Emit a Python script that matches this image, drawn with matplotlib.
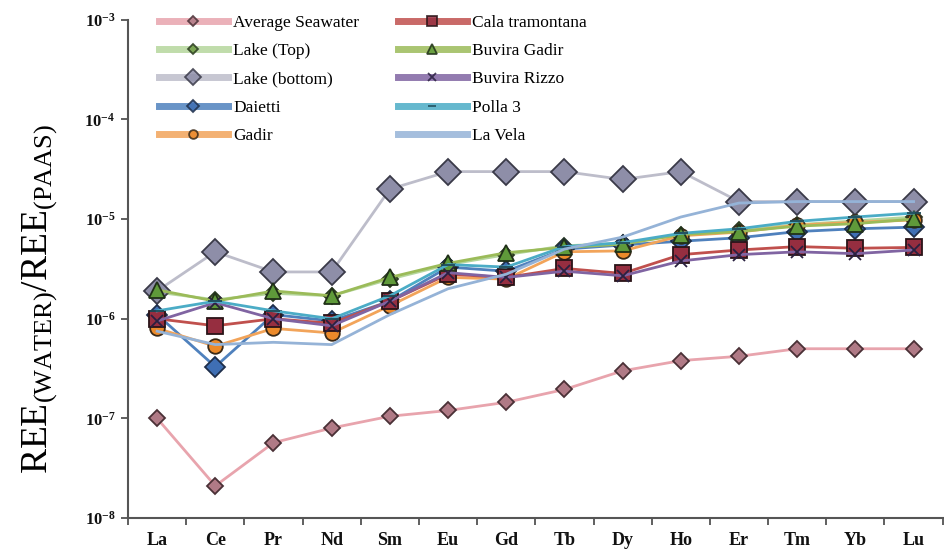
import numpy as np
import matplotlib
matplotlib.use("Agg")
import matplotlib.pyplot as plt
from matplotlib.ticker import FixedLocator, NullLocator, FixedFormatter

plt.rcParams['font.family'] = ['Liberation Serif', 'DejaVu Serif']
plt.rcParams['mathtext.fontset'] = 'custom'
plt.rcParams['mathtext.rm'] = 'Liberation Serif'
plt.rcParams['mathtext.it'] = 'Liberation Serif:italic'
plt.rcParams['mathtext.bf'] = 'Liberation Serif:bold'

elements = ['La', 'Ce', 'Pr', 'Nd', 'Sm', 'Eu', 'Gd', 'Tb', 'Dy', 'Ho', 'Er', 'Tm', 'Yb', 'Lu']

seawater = [1.0e-7, 2.1e-8, 5.7e-8, 8.0e-8, 1.05e-7, 1.2e-7, 1.45e-7, 1.95e-7, 3.0e-7, 3.8e-7, 4.2e-7, 5.0e-7, 5.0e-7, 5.0e-7]
lake_top = [1.85e-6, 1.55e-6, 1.8e-6, 1.7e-6, 2.5e-6, 3.5e-6, 4.4e-6, 5.4e-6, 5.7e-6, 7.0e-6, 7.8e-6, 8.8e-6, 9.6e-6, 1.05e-5]
lake_bottom = [1.9e-6, 4.7e-6, 2.95e-6, 2.95e-6, 2.0e-5, 3.0e-5, 3.0e-5, 3.0e-5, 2.5e-5, 3.0e-5, 1.5e-5, 1.5e-5, 1.5e-5, 1.5e-5]
daietti = [1.1e-6, 3.3e-7, 1.1e-6, 9.5e-7, 1.5e-6, 3.3e-6, 3.0e-6, 5.0e-6, 5.5e-6, 6.0e-6, 6.5e-6, 7.5e-6, 8.0e-6, 8.3e-6]
gadir = [8.0e-7, 5.3e-7, 8.0e-7, 7.2e-7, 1.35e-6, 2.6e-6, 2.5e-6, 4.7e-6, 4.8e-6, 6.8e-6, 7.4e-6, 8.7e-6, 9.3e-6, 9.8e-6]
cala = [1.0e-6, 8.5e-7, 1.0e-6, 9.0e-7, 1.5e-6, 2.8e-6, 2.6e-6, 3.2e-6, 2.85e-6, 4.4e-6, 4.9e-6, 5.3e-6, 5.1e-6, 5.2e-6]
buvira_gadir = [1.95e-6, 1.5e-6, 1.9e-6, 1.7e-6, 2.6e-6, 3.6e-6, 4.6e-6, 5.2e-6, 5.6e-6, 7.0e-6, 7.5e-6, 8.5e-6, 9.0e-6, 1.0e-5]
buvira_rizzo = [9.5e-7, 1.45e-6, 1.0e-6, 8.5e-7, 1.5e-6, 2.9e-6, 2.6e-6, 3.0e-6, 2.7e-6, 3.8e-6, 4.4e-6, 4.7e-6, 4.5e-6, 4.9e-6]
polla3 = [1.2e-6, 1.5e-6, 1.2e-6, 1.0e-6, 1.7e-6, 3.5e-6, 3.3e-6, 5.3e-6, 5.8e-6, 7.2e-6, 8.0e-6, 9.5e-6, 1.05e-5, 1.15e-5]
la_vela = [7.5e-7, 5.5e-7, 5.8e-7, 5.5e-7, 1.1e-6, 2.0e-6, 2.8e-6, 5.0e-6, 6.6e-6, 1.05e-5, 1.45e-5, 1.5e-5, 1.5e-5, 1.5e-5]

x = np.arange(len(elements))

fig = plt.figure(figsize=(9.44, 5.52), dpi=100)
ax = fig.add_axes([0.1356, 0.0616, 0.863, 0.9024])

# label, data, line colour, marker, face, edge, size
series = [
    ('Average Seawater', seawater, '#e8a4ad', 'D', '#b07a86', '#4a3036', 8.5),
    ('Lake (Top)', lake_top, '#b5d69c', 'D', '#6f9c45', '#2a3a20', 8),
    ('Lake (bottom)', lake_bottom, '#bdbdca', 'D', '#8e8ea8', '#3a3a48', 13),
    ('Daietti', daietti, '#4f81bd', 'D', '#3f6fb4', '#1e2e4a', 10.5),
    ('Gadir', gadir, '#f2a45a', 'o', '#ec8a2a', '#3a2a18', 10.5),
    ('Cala tramontana', cala, '#c0504d', 's', '#962e40', '#2a1418', 11.5),
    ('Buvira Gadir', buvira_gadir, '#9bbb59', '^', '#5f9a3a', '#203018', 11.5),
    ('Buvira Rizzo', buvira_rizzo, '#8064a2', 'x', '#2a2040', '#2a2040', 9),
    ('Polla 3', polla3, '#4bacc6', '_', '#1e4a58', '#1e4a58', 10),
    ('La Vela', la_vela, '#95b3d7', '', '#95b3d7', '#95b3d7', 0),
]

for lab, vals, lc, mk, fc, ec, ms in series:
    ax.plot(x, vals, color=lc, lw=2, marker=mk if mk else None,
            markersize=ms, markerfacecolor=fc, markeredgecolor=ec,
            markeredgewidth=1.3, label=lab)

ax.set_yscale('log')
ax.set_ylim(1e-8, 1e-3)
ax.set_xlim(-0.5, len(elements) - 0.5)

ax.yaxis.set_major_locator(FixedLocator([1e-8, 1e-7, 1e-6, 1e-5, 1e-4, 1e-3]))
ax.yaxis.set_major_formatter(FixedFormatter([r'$\mathregular{10^{-8}}$', r'$\mathregular{10^{-7}}$',
                                             r'$\mathregular{10^{-6}}$', r'$\mathregular{10^{-5}}$',
                                             r'$\mathregular{10^{-4}}$', r'$\mathregular{10^{-3}}$']))
ax.yaxis.set_minor_locator(NullLocator())
ax.tick_params(axis='y', which='major', length=5, width=1.2, colors='#444444',
               labelcolor='#111111', labelsize=12, pad=4)
for t in ax.get_yticklabels():
    t.set_fontweight('bold')

ax.set_xticks(x)
ax.set_xticklabels(elements, fontsize=13, fontweight='bold', color='#111111')
ax.set_xticks(np.arange(-0.5, len(elements)), minor=True)
ax.tick_params(axis='x', which='major', length=0, pad=10)
ax.tick_params(axis='x', which='minor', length=5, width=1.2, colors='#444444')

for s in ['top', 'right']:
    ax.spines[s].set_visible(False)
for s in ['left', 'bottom']:
    ax.spines[s].set_color('#555555')
    ax.spines[s].set_linewidth(1.5)

ax.set_ylabel(r'REE$_{\mathregular{(WATER)}}$/REE$_{\mathregular{(PAAS)}}$', fontsize=27)
ax.yaxis.set_label_coords(-0.085, 0.44)

leg = ax.legend(ncol=2, loc='upper left', bbox_to_anchor=(150 / 944, 1 - 6 / 552),
                bbox_transform=fig.transFigure, frameon=False, fontsize=12.5,
                handlelength=4.0, handletextpad=0.3, columnspacing=2.2,
                labelspacing=0.7, markerscale=0.6, borderpad=0)
for ln in leg.get_lines():
    ln.set_linewidth(5)
    ln.set_alpha(0.85)

fig.savefig('out.png', dpi=100)
